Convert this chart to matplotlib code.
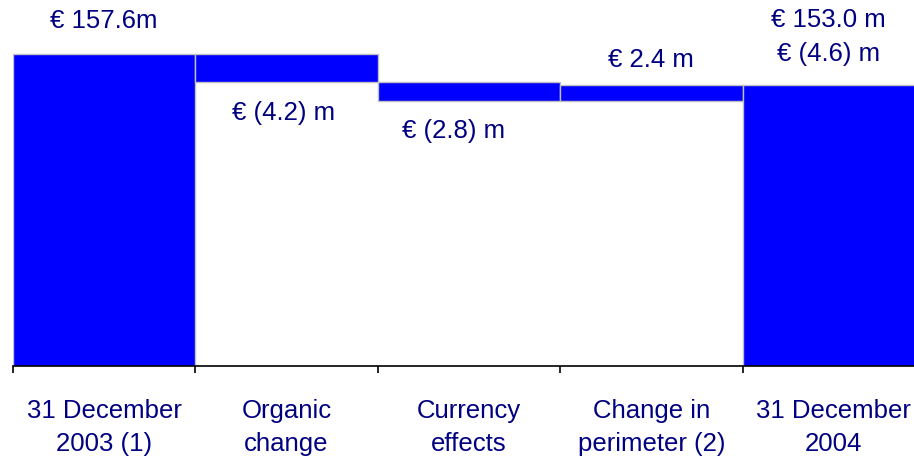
import matplotlib
matplotlib.use('Agg')
import matplotlib.pyplot as plt

# Data
categories = ['31 December\n2003 (1)', 'Organic\nchange', 'Currency\neffects',
              'Change in\nperimeter (2)', '31 December\n2004']
start_value = 157.6
changes = [-4.2, -2.8, 2.4]
end_value = 153.0
change_labels = ['€ (4.2) m', '€ (2.8) m', '€ 2.4 m']

blue = '#0000FF'
navy = '#000080'
fs = 18.5
plt.rcParams['font.family'] = ['Liberation Sans', 'DejaVu Sans']

fig = plt.figure(figsize=(9.14, 4.59), dpi=100)
ax = fig.add_axes([13 / 914, 93 / 459, 901 / 914, 366 / 459])

# waterfall bars
bottoms = [0]
heights = [start_value]
level = start_value
for c in changes:
    new_level = level + c
    bottoms.append(min(level, new_level))
    heights.append(abs(c))
    level = new_level
bottoms.append(0)
heights.append(end_value)

ax.bar(range(len(categories)), heights, bottom=bottoms, width=1.0,
       color=blue, edgecolor='#C0C0C0', linewidth=1.0)

ax.set_xlim(-0.5, 4.44)
ax.set_ylim(110.4, 165.85)

# value labels
ax.annotate('€ 157.6m', (0, start_value), xytext=(0, 24), textcoords='offset points',
            ha='center', va='center', fontsize=fs, color=navy)
level = start_value
for i, (c, lab) in enumerate(zip(changes, change_labels), start=1):
    new_level = level + c
    if c < 0:
        xoff = -11 if i == 2 else -2
        ax.annotate(lab, (i, new_level), xytext=(xoff, -22), textcoords='offset points',
                    ha='center', va='center', fontsize=fs, color=navy)
    else:
        ax.annotate(lab, (i, new_level), xytext=(0, 18), textcoords='offset points',
                    ha='center', va='center', fontsize=fs, color=navy)
    level = new_level
ax.annotate('€ 153.0 m', (4, end_value), xytext=(-4, 46.5), textcoords='offset points',
            ha='center', va='center', fontsize=fs, color=navy)
ax.annotate('€ (4.6) m', (4, end_value), xytext=(-4, 22.5), textcoords='offset points',
            ha='center', va='center', fontsize=fs, color=navy)

# axes styling
for side in ['top', 'right', 'left']:
    ax.spines[side].set_visible(False)
ax.spines['bottom'].set_color('black')
ax.spines['bottom'].set_linewidth(1.2)
ax.set_yticks([])
ax.set_xticks(range(len(categories)))
ax.set_xticklabels(categories, fontsize=fs, color=navy, linespacing=1.43)
ax.tick_params(axis='x', which='major', length=0, pad=24)
ax.set_xticks([-0.5, 0.5, 1.5, 2.5, 3.5], minor=True)
ax.tick_params(axis='x', which='minor', length=5, width=1.2, color='black', direction='out')

fig.savefig('out.png', dpi=100)
